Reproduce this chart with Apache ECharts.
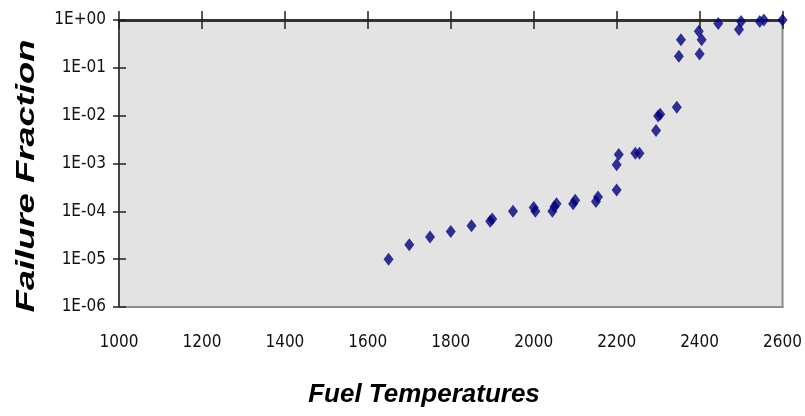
<!DOCTYPE html>
<html>
<head>
<meta charset="utf-8">
<script src="https://cdn.jsdelivr.net/npm/echarts@6/dist/echarts.min.js"></script>
<style>
html,body{margin:0;padding:0;background:#fff;}
#chart{width:805px;height:416px;}
</style>
</head>
<body>
<div id="chart"></div>
<script>
var xTitle = 'Fuel Temperatures';
var yTitle = 'Failure Fraction';
var yTickLabels = ['1E-06','1E-05','1E-04','1E-03','1E-02','1E-01','1E+00'];
var xTickLabels = ['1000','1200','1400','1600','1800','2000','2200','2400','2600'];
var temps = [1650,1700,1750,1800,1850,1895,1900,1950,2000,2004,2045,2050,2055,2095,2100,2150,2155,2200,2200,2205,2245,2255,2295,2300,2305,2345,2350,2355,2398,2400,2405,2445,2495,2500,2545,2555,2600];
var fractions = [1.0e-5,2.0e-5,2.9e-5,3.8e-5,5.0e-5,6.2e-5,6.9e-5,1.0e-4,1.2e-4,1.0e-4,1.0e-4,1.25e-4,1.44e-4,1.44e-4,1.7e-4,1.6e-4,2.0e-4,2.8e-4,9.4e-4,1.55e-3,1.64e-3,1.64e-3,4.9e-3,9.8e-3,1.07e-2,1.5e-2,0.174,0.387,0.58,0.195,0.387,0.84,0.63,0.93,0.93,1.0,1.0];

var points = temps.map(function(t,i){ return [t, fractions[i]]; });
var labelFont = "'DejaVu Sans Condensed','Liberation Sans Narrow',sans-serif";

var chart = echarts.init(document.getElementById('chart'), null, {renderer:'canvas'});
chart.setOption({
  animation: false,
  backgroundColor: '#ffffff',
  grid: {left:119, right:21, top:20, bottom:109, show:true, backgroundColor:'#e3e3e3', borderColor:'#8c8c8c', borderWidth:2},
  xAxis: [
    {type:'value', position:'bottom', min:1000, max:2600, interval:200,
     axisLine:{show:true, lineStyle:{color:'#8c8c8c', width:2}},
     axisTick:{show:false}, splitLine:{show:false},
     axisLabel:{margin:27, color:'#111', fontSize:17, fontFamily:labelFont,
       formatter:function(v){ return xTickLabels[Math.round((v-1000)/200)] || ''; }}},
    {type:'value', position:'top', min:1000, max:2600, interval:200,
     axisLine:{show:true, lineStyle:{color:'#333', width:3}},
     axisTick:{show:true, inside:false, length:9, lineStyle:{color:'#222', width:1.5}},
     axisLabel:{show:false}, splitLine:{show:false}},
    {type:'value', position:'top', min:1000, max:2600, interval:200,
     axisLine:{show:false},
     axisTick:{show:true, inside:true, length:9, lineStyle:{color:'#222', width:1.5}},
     axisLabel:{show:false}, splitLine:{show:false}}
  ],
  yAxis: [
    {type:'log', logBase:10, position:'left', min:1e-6, max:1,
     axisLine:{show:true, lineStyle:{color:'#444', width:2}},
     axisTick:{show:true, inside:false, length:6, lineStyle:{color:'#222', width:1.5}},
     splitLine:{show:false}, minorTick:{show:false},
     axisLabel:{margin:13, color:'#111', fontSize:17, fontFamily:labelFont,
       formatter:function(v){ var k=Math.round(Math.log10(v))+6; return yTickLabels[k] || ''; }}},
    {type:'log', logBase:10, position:'left', min:1e-6, max:1,
     axisLine:{show:false},
     axisTick:{show:true, inside:true, length:7, lineStyle:{color:'#222', width:1.5}},
     splitLine:{show:false}, axisLabel:{show:false}}
  ],
  graphic: [
    {type:'text', x:424, y:395, style:{text:xTitle, fill:'#000', font:"italic bold 26px 'Liberation Sans', Arial, sans-serif", textAlign:'center', textVerticalAlign:'middle'}},
    {type:'text', x:27, y:176, rotation:Math.PI/2, scaleX:1.4,
     style:{text:yTitle, fill:'#000', font:"italic bold 26px 'Liberation Sans', Arial, sans-serif", textAlign:'center', textVerticalAlign:'middle'}}
  ],
  series: [{
    type:'scatter', xAxisIndex:0, yAxisIndex:0, data:points,
    symbol:'diamond', symbolSize:[10,13], clip:false,
    itemStyle:{color:'#000080'}
  }]
});
</script>
</body>
</html>
